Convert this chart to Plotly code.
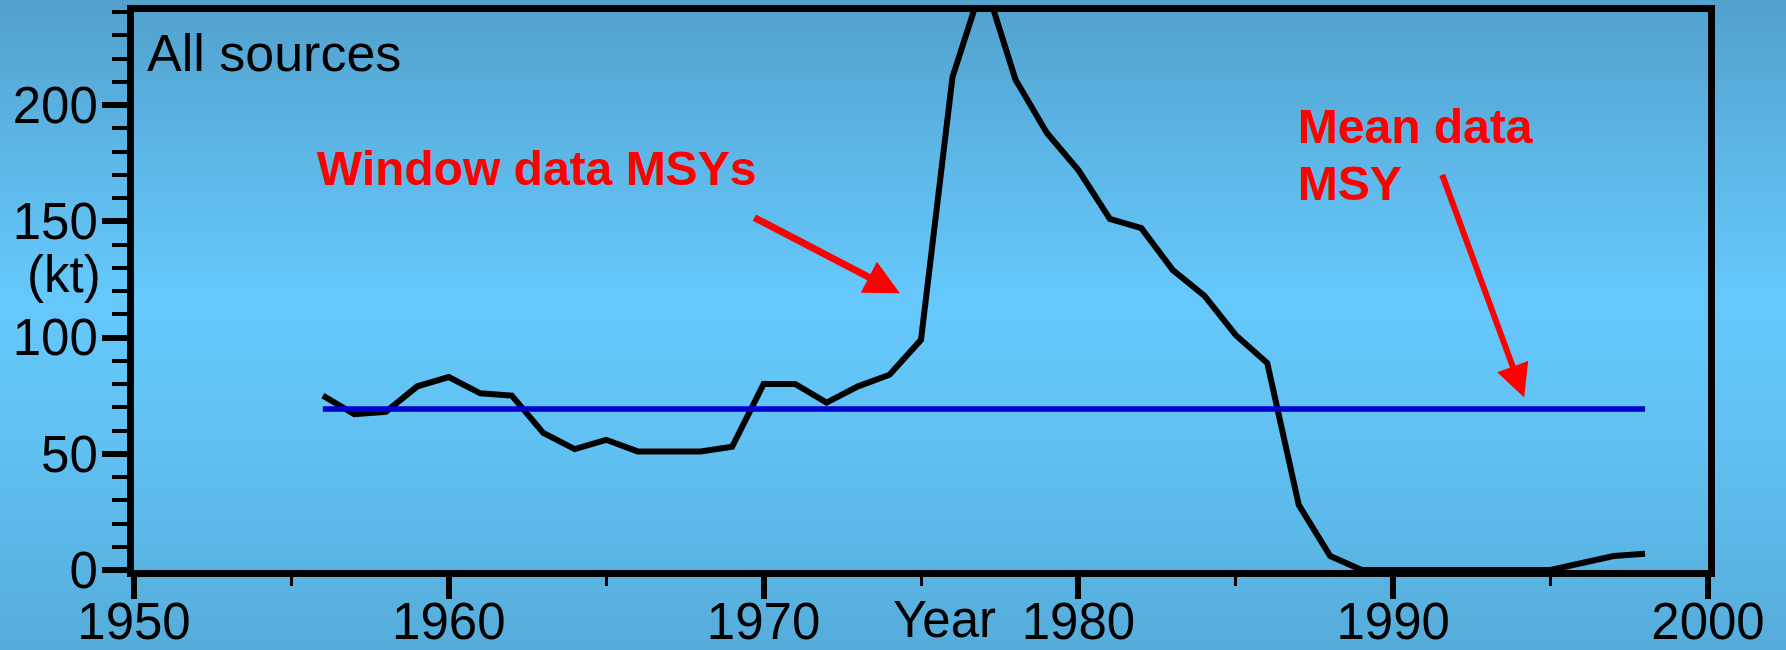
import numpy as np
import plotly.graph_objects as go

# Window data MSY estimates (kt), one per year
years = list(range(1956, 1999))
window_msy = [75, 67, 68, 79, 83, 76, 75, 59, 52, 56, 51, 51, 51, 53, 80, 80, 72,
              79, 84, 99, 212, 254, 211, 188, 172, 151, 147, 129, 118, 101, 89, 28,
              6, 0, 0, 0, 0, 0, 0, 0, 3, 6, 7]

# Mean data MSY (kt)
mean_years = [1956, 1998]
mean_msy = [69.3, 69.3]

x_ticks = [1950, 1960, 1970, 1980, 1990, 2000]
y_ticks = [0, 50, 100, 150, 200]

FONT = "Liberation Sans, Arial, sans-serif"
W, H = 1786, 650
ML, MR, MT, MB = 134, 78, 12, 80

fig = go.Figure()
fig.add_trace(go.Scatter(x=years, y=window_msy, mode="lines",
                         line=dict(color="black", width=6), showlegend=False))
fig.add_trace(go.Scatter(x=mean_years, y=mean_msy, mode="lines",
                         line=dict(color="#0000cc", width=5.5), showlegend=False))

# vertical background gradient, built from thin paper-space stripes
stops_px = [0, 150, 300, 450, 650]
stops_rgb = np.array([[82, 160, 204], [92, 182, 230], [102, 200, 251],
                      [96, 192, 241], [86, 172, 218]])
ph = H - MT - MB
step = 5
for top in range(0, H, step):
    mid = top + step / 2
    rgb = [int(round(np.interp(mid, stops_px, stops_rgb[:, k]))) for k in range(3)]
    fig.add_shape(type="rect", xref="paper", yref="paper",
                  x0=-ML / (W - ML - MR) - 0.01, x1=1 + MR / (W - ML - MR) + 0.01,
                  y0=(H - MB - top - step - 0.5) / ph, y1=(H - MB - top + 0.5) / ph,
                  fillcolor=f"rgb({rgb[0]},{rgb[1]},{rgb[2]})", line_width=0,
                  layer="below")

axis_common = dict(showline=True, linewidth=7, linecolor="black", mirror=True,
                   showgrid=False, zeroline=False, ticks="outside", automargin=False,
                   tickcolor="black", tickfont=dict(size=51, color="black", family=FONT))

fig.update_xaxes(range=[1950, 2000], tickvals=x_ticks, ticklen=22, tickwidth=5.5,
                 ticklabelstandoff=-21,
                 minor=dict(dtick=5, tick0=1950, ticks="outside", ticklen=9,
                            tickwidth=3, tickcolor="black"),
                 **axis_common)
fig.update_yaxes(range=[0, 240], tickvals=y_ticks, ticklen=25, tickwidth=5.5,
                 ticklabelstandoff=-6,
                 minor=dict(dtick=10, tick0=0, ticks="outside", ticklen=15,
                            tickwidth=3.5, tickcolor="black"),
                 **axis_common)

big = dict(family=FONT, size=51, color="black")
red = dict(family=FONT, size=48, color="#ff0000")

fig.add_annotation(text="All sources", xref="paper", yref="paper", x=0.007, y=0.926,
                   xanchor="left", yanchor="middle", showarrow=False,
                   font=dict(family=FONT, size=52, color="black"))
fig.add_annotation(text="(kt)", xref="paper", yref="paper", x=-0.0445, y=0.529,
                   xanchor="center", yanchor="middle", showarrow=False, font=big)
fig.add_annotation(text="Year", xref="x", yref="paper", x=1975.76, y=-0.1416,
                   xanchor="center", yanchor="bottom", borderpad=0,
                   showarrow=False, font=big)

fig.add_annotation(text="<b>Window data MSYs</b>", x=1962.8, y=172.8,
                   xanchor="center", yanchor="middle", showarrow=False, font=red)
fig.add_annotation(text="<b>Mean data</b>", x=1986.9, y=190.6,
                   xanchor="left", yanchor="middle", showarrow=False, font=red)
fig.add_annotation(text="<b>MSY</b>", x=1986.9, y=166.2,
                   xanchor="left", yanchor="middle", showarrow=False, font=red)

# arrows pointing at the two curves
fig.add_annotation(text="", x=1974.33, y=119.0, ax=1969.66, ay=151.9,
                   axref="x", ayref="y", showarrow=True, arrowhead=2,
                   arrowwidth=7, arrowsize=1.0, arrowcolor="#ff0000")
fig.add_annotation(text="", x=1994.16, y=74.2, ax=1991.54, ay=170.6,
                   axref="x", ayref="y", showarrow=True, arrowhead=2,
                   arrowwidth=6, arrowsize=1.1, arrowcolor="#ff0000")

fig.update_layout(width=W, height=H, margin=dict(l=ML, r=MR, t=MT, b=MB),
                  paper_bgcolor="rgb(102,200,251)", plot_bgcolor="rgba(0,0,0,0)",
                  font=dict(family=FONT, color="black"), showlegend=False)

fig.write_html("out.html", config={"displayModeBar": False},
               post_script="document.body.style.margin='0';")
